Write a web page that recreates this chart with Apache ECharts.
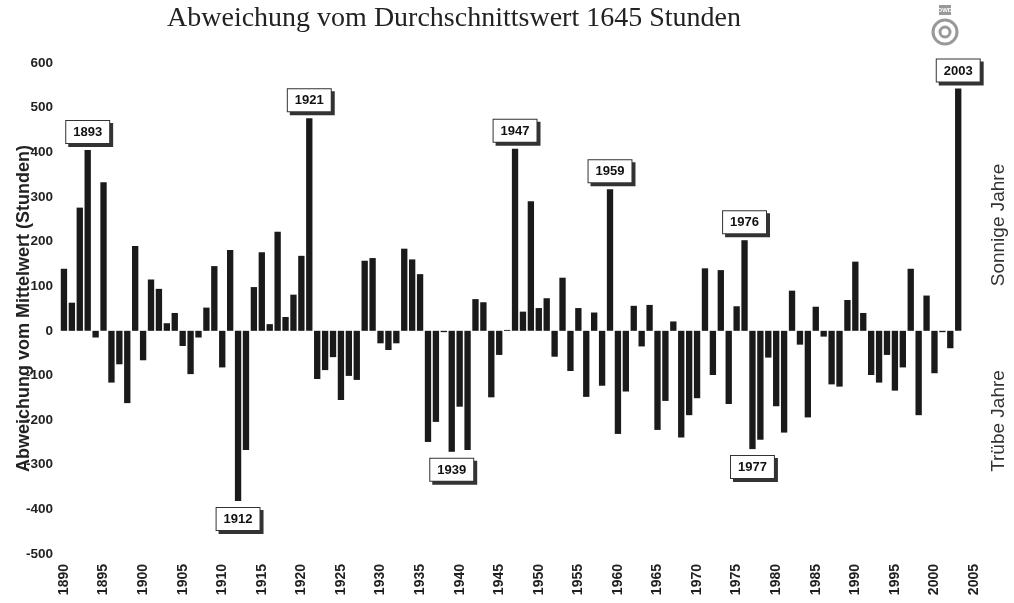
<!DOCTYPE html>
<html>
<head>
<meta charset="utf-8">
<script src="https://cdn.jsdelivr.net/npm/echarts@6/dist/echarts.min.js"></script>
<style>
  html, body { margin: 0; padding: 0; background: #fff; }
  #chart { width: 1014px; height: 603px; }
</style>
</head>
<body>
<div id="chart"></div>
<script>
// Jahre 1890 .. 2005 (Achse), Werte nur bis 2003
var firstYear = 1890;
var lastAxisYear = 2005;
var years = [];
for (var y = firstYear; y <= lastAxisYear; y++) years.push(String(y));

// Abweichung vom Mittelwert (Stunden), 1890-2003
var deviation = [
  139, 63, 276, 405, -15, 333, -116, -75, -162, 190,
  -66, 115, 94, 17, 40, -34, -97, -15, 52, 145,
  -82, 181, -381, -267, 98, 176, 15, 222, 31, 81,
  168, 476, -108, -88, -59, -155, -101, -110, 157, 163,
  -28, -43, -28, 184, 160, 127, -249, -204, -3, -271,
  -170, -267, 71, 64, -149, -54, 2, 408, 43, 290,
  51, 73, -58, 119, -90, 51, -148, 41, -123, 317,
  -231, -136, 56, -35, 58, -222, -157, 21, -239, -189,
  -151, 140, -99, 136, -164, 55, 203, -265, -244, -60,
  -169, -228, 90, -31, -194, 54, -13, -120, -125, 69,
  155, 40, -99, -116, -54, -134, -82, 139, -189, 79,
  -95, -3, -39, 543
];

var markedYears = ['1893', '1912', '1921', '1939', '1947', '1959', '1976', '1977', '2003'];

var yTicks = { min: -500, max: 600, step: 100 };

var chart = echarts.init(document.getElementById('chart'));

var barData = deviation.map(function (v, i) {
  var item = { value: v };
  if (markedYears.indexOf(years[i]) >= 0) {
    item.label = {
      show: true,
      position: v >= 0 ? 'top' : 'bottom',
      distance: 7,
      formatter: years[i],
      color: '#111',
      fontFamily: 'Liberation Sans, Arial, sans-serif',
      fontWeight: 'bold',
      fontSize: 13,
      backgroundColor: '#fff',
      borderColor: '#333',
      borderWidth: 1,
      padding: [5, 7, 4, 7],
      shadowColor: '#333',
      shadowOffsetX: 3,
      shadowOffsetY: 3,
      shadowBlur: 0
    };
  }
  return item;
});

var option = {
  backgroundColor: '#ffffff',
  animation: false,
  title: {
    text: 'Abweichung vom Durchschnittswert 1645 Stunden',
    left: 449,
    top: 0,
    textAlign: 'center',
    textStyle: {
      fontFamily: 'Liberation Serif, Times New Roman, serif',
      fontWeight: 'normal',
      fontSize: 28,
      color: '#222'
    }
  },
  grid: {
    left: 60,
    right: 36,
    top: 63,
    bottom: 49,
    containLabel: false,
    outerBoundsMode: 'none'
  },
  xAxis: {
    type: 'category',
    data: years,
    boundaryGap: true,
    axisLine: { show: false },
    axisTick: { show: false },
    axisLabel: {
      interval: 4,
      rotate: 90,
      margin: 10,
      color: '#222',
      fontFamily: 'Liberation Sans, Arial, sans-serif',
      fontWeight: 'bold',
      fontSize: 14
    }
  },
  yAxis: {
    type: 'value',
    min: yTicks.min,
    max: yTicks.max,
    interval: yTicks.step,
    name: 'Abweichung vom Mittelwert (Stunden)',
    nameLocation: 'middle',
    nameGap: 27,
    nameMoveOverlap: false,
    nameTextStyle: {
      color: '#222',
      fontFamily: 'Liberation Sans, Arial, sans-serif',
      fontWeight: 'bold',
      fontSize: 18
    },
    axisLine: { show: false },
    axisTick: { show: false },
    splitLine: { show: false },
    axisLabel: {
      margin: 7,
      color: '#222',
      fontFamily: 'Liberation Sans, Arial, sans-serif',
      fontWeight: 'bold',
      fontSize: 13.5
    }
  },
  graphic: [
    {
      type: 'text',
      x: 999,
      y: 225,
      rotation: Math.PI / 2,
      style: {
        text: 'Sonnige Jahre',
        fill: '#333',
        font: '19px Liberation Sans, Arial, sans-serif',
        textAlign: 'center',
        textVerticalAlign: 'middle'
      }
    },
    {
      type: 'text',
      x: 999,
      y: 421,
      rotation: Math.PI / 2,
      style: {
        text: 'Trübe Jahre',
        fill: '#333',
        font: '19px Liberation Sans, Arial, sans-serif',
        textAlign: 'center',
        textVerticalAlign: 'middle'
      }
    },
    // kleines DWD-Logo oben rechts
    {
      type: 'group',
      x: 945,
      y: 0,
      children: [
        { type: 'rect', shape: { x: -6, y: 5, width: 12, height: 10 }, style: { fill: '#999' } },
        { type: 'text', x: 0, y: 10, style: { text: 'DWD', fill: '#fff', font: 'bold 6px sans-serif', textAlign: 'center', textVerticalAlign: 'middle' } },
        { type: 'circle', shape: { cx: 0, cy: 32, r: 12 }, style: { fill: 'none', stroke: '#999', lineWidth: 3 } },
        { type: 'circle', shape: { cx: 0, cy: 32, r: 5 }, style: { fill: 'none', stroke: '#999', lineWidth: 3 } }
      ]
    }
  ],
  series: [{
    type: 'bar',
    data: barData,
    barCategoryGap: '20%',
    itemStyle: { color: '#1a1a1a' },
    label: { show: false }
  }]
};

chart.setOption(option);
</script>
</body>
</html>
